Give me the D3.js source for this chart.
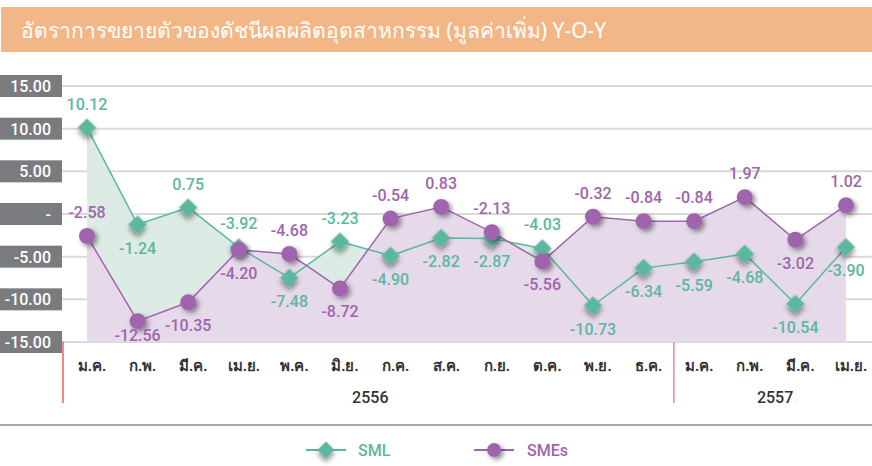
<!DOCTYPE html>
<html><head><meta charset="utf-8">
<script src="https://cdn.jsdelivr.net/npm/d3@7/dist/d3.min.js"></script>
<style>body{margin:0;background:#fff}svg{display:block}</style>
</head><body>
<svg id="c" width="872" height="466"></svg>
<script>
const title = "อัตราการขยายตัวของดัชนีผลผลิตอุตสาหกรรม (มูลค่าเพิ่ม) Y-O-Y";
const months = ["ม.ค.","ก.พ.","มี.ค.","เม.ย.","พ.ค.","มิ.ย.","ก.ค.","ส.ค.","ก.ย.","ต.ค.","พ.ย.","ธ.ค.","ม.ค.","ก.พ.","มี.ค.","เม.ย."];
const years = [{label:"2556", start:0, end:11},{label:"2557", start:12, end:15}];
const sml = [10.12,-1.24,0.75,-3.92,-7.48,-3.23,-4.90,-2.82,-2.87,-4.03,-10.73,-6.34,-5.59,-4.68,-10.54,-3.90];
const smlPos = ["a","b","a","a","b","a","b","b","b","a","b","b","b","b","b","b"];
const smes = [-2.58,-12.56,-10.35,-4.20,-4.68,-8.72,-0.54,0.83,-2.13,-5.56,-0.32,-0.84,-0.84,1.97,-3.02,1.02];
const smesPos = ["a","b2","b","b","a","b","a","a","a","b","a","a","a","a","b","a"];
const yTicks = [15,10,5,0,-5,-10,-15];
const seriesNames = ["SML","SMEs"];

const svg = d3.select("#c");
const font = "Roboto, 'Liberation Sans', Arial, sans-serif";
const teal = "#5cb79f", purple = "#a064ad";
const fmt = v => d3.format(".2f")(v).replace("\u2212","-");

// title bar
svg.append("rect").attr("x",1).attr("y",7).attr("width",871).attr("height",45).attr("fill","#f3b787");
svg.append("text").attr("x",21).attr("y",38).attr("fill","#fff").attr("font-size",21)
  .attr("font-family","'Noto Sans', 'DejaVu Sans Condensed', sans-serif").text(title);

const y = d3.scaleLinear().domain([-15,15]).range([342,86]);
const x = d3.scalePoint().domain(d3.range(months.length)).range([87,846]);
const step = x.step();

const defs = svg.append("defs");
const f = defs.append("filter").attr("id","sh").attr("x","-60%").attr("y","-60%").attr("width","220%").attr("height","220%");
f.append("feDropShadow").attr("dx",2.5).attr("dy",2.5).attr("stdDeviation",2.5).attr("flood-color","#000").attr("flood-opacity",0.45);

// grid
svg.append("g").selectAll("line").data(yTicks).join("line")
  .attr("x1",62).attr("x2",872).attr("y1",d=>y(d)).attr("y2",d=>y(d))
  .attr("stroke","#d9d9d9").attr("stroke-width",2);

// areas
const areaGen = vals => d3.area().x((d,i)=>x(i)).y0(y(-15)).y1(d=>y(d))(vals);
svg.append("path").attr("d",areaGen(sml)).attr("fill","#dcebe4");
svg.append("path").attr("d",areaGen(smes)).attr("fill","#e5d9ea");

// y labels
const yl = svg.append("g");
yl.selectAll("rect").data(yTicks).join("rect")
  .attr("x",0).attr("y",d=>y(d)-11).attr("width",62).attr("height",22).attr("fill","#7a7b7e");
yl.selectAll("text").data(yTicks).join("text")
  .attr("x",51).attr("y",d=>y(d)+6).attr("text-anchor","end").attr("fill","#fff")
  .attr("font-size",16).attr("font-weight",500).attr("font-family",font)
  .text(d=>d===0?"-":fmt(d));

// lines
const lineGen = d3.line().x((d,i)=>x(i)).y(d=>y(d));
svg.append("path").attr("d",lineGen(sml)).attr("fill","none").attr("stroke",teal).attr("stroke-width",1.5);
svg.append("path").attr("d",lineGen(smes)).attr("fill","none").attr("stroke",purple).attr("stroke-width",1.5);

// markers
svg.append("g").selectAll("rect").data(sml).join("rect")
  .attr("x",-6.5).attr("y",-6.5).attr("width",13).attr("height",13).attr("fill",teal)
  .attr("transform",(d,i)=>`translate(${x(i)},${y(d)}) rotate(45)`).attr("filter","url(#sh)");
svg.append("g").selectAll("circle").data(smes).join("circle")
  .attr("cx",(d,i)=>x(i)).attr("cy",d=>y(d)).attr("r",8).attr("fill",purple).attr("filter","url(#sh)");

// data labels
const off = {a:-24, b:23, b2:14};
const lab = (vals,pos,col)=> svg.append("g").selectAll("text").data(vals).join("text")
  .attr("x",(d,i)=>x(i)).attr("y",(d,i)=>y(d)+off[pos[i]]+6)
  .attr("text-anchor","middle").attr("fill",col).attr("font-size",16).attr("font-weight",500).attr("font-family",font)
  .text(d=>fmt(d));
lab(sml,smlPos,teal);
lab(smes,smesPos,purple);

// x axis labels
svg.append("g").selectAll("text").data(months).join("text")
  .attr("x",(d,i)=>x(i)+5).attr("y",371).attr("text-anchor","middle").attr("fill","#333")
  .attr("font-size",15).attr("font-weight",600).attr("font-family","'Noto Sans', sans-serif").text(d=>d);
svg.append("g").selectAll("text").data(years).join("text")
  .attr("x",d=>(x(d.start)+x(d.end))/2+5).attr("y",403).attr("text-anchor","middle").attr("fill","#333")
  .attr("font-size",16).attr("font-weight",500).attr("font-family",font).text(d=>d.label);
// dividers
svg.append("line").attr("x1",63).attr("x2",63).attr("y1",342).attr("y2",403).attr("stroke","#e8383d").attr("stroke-width",1.2);
svg.append("line").attr("x1",x(11)+step/2+5).attr("x2",x(11)+step/2+5).attr("y1",342).attr("y2",403).attr("stroke","#ee6a70").attr("stroke-width",1.2);

svg.append("line").attr("x1",0).attr("x2",872).attr("y1",425).attr("y2",425).attr("stroke","#8e8e8e").attr("stroke-width",1.5);

// legend
const lg = svg.append("g");
lg.append("line").attr("x1",306).attr("x2",346).attr("y1",450).attr("y2",450).attr("stroke",teal).attr("stroke-width",2);
lg.append("rect").attr("x",-6).attr("y",-6).attr("width",12).attr("height",12).attr("fill",teal)
  .attr("transform","translate(326,450) rotate(45)").attr("filter","url(#sh)");
lg.append("text").attr("x",358).attr("y",456).attr("fill",teal).attr("font-size",16).attr("font-weight",500).attr("font-family",font).text(seriesNames[0]);
lg.append("line").attr("x1",474).attr("x2",514).attr("y1",450).attr("y2",450).attr("stroke",purple).attr("stroke-width",2);
lg.append("circle").attr("cx",494).attr("cy",450).attr("r",7).attr("fill",purple).attr("filter","url(#sh)");
lg.append("text").attr("x",527).attr("y",456).attr("fill",purple).attr("font-size",16).attr("font-weight",500).attr("font-family",font).text(seriesNames[1]);
</script>
</body></html>
